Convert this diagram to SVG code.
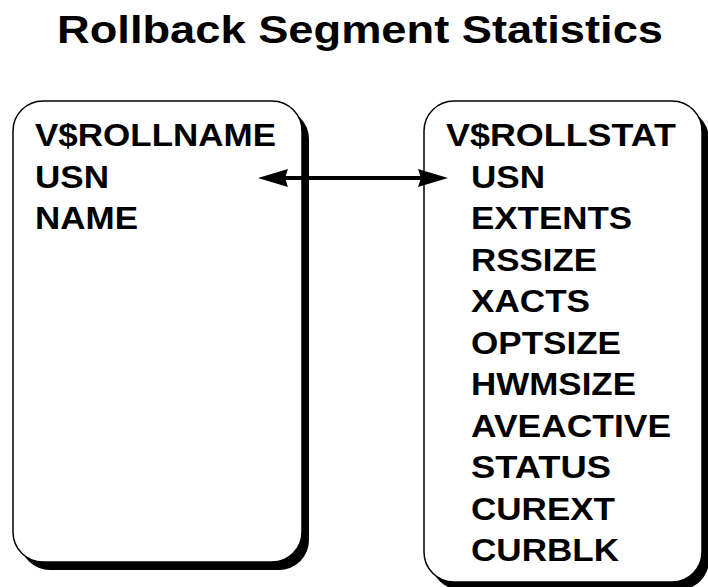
<svg xmlns="http://www.w3.org/2000/svg" width="708" height="587" viewBox="0 0 708 587">
  <style>
    .t { font-family: "Liberation Sans", Arial, sans-serif; font-weight: bold; fill: #000; }
    .title { font-size: 39px; }
    .item { font-size: 32px; }
    .box { fill: #fff; stroke: #000; stroke-width: 1.5; }
    .shadow { fill: #000; }
    .conn { stroke: #000; stroke-width: 4; fill: none; }
  </style>
  <defs>
    <marker id="ah" viewBox="0 0 30 18" refX="20" refY="9" markerWidth="30" markerHeight="18" markerUnits="userSpaceOnUse" orient="auto-start-reverse">
      <path d="M0,0 L30,9 L0,18 L3,9 z" fill="#000"/>
    </marker>
  </defs>
  <rect width="708" height="587" fill="#fff"/>
  <text class="t title" x="57" y="43" textLength="606" lengthAdjust="spacingAndGlyphs">Rollback Segment Statistics</text>

  <g id="v-rollname">
    <rect class="shadow" x="20" y="109" width="289" height="461" rx="30" ry="30"/>
    <rect class="box" x="13" y="101" width="289" height="461" rx="30" ry="30"/>
    <text class="t item" x="35" y="146" textLength="241" lengthAdjust="spacingAndGlyphs">V$ROLLNAME</text>
    <text class="t item" x="35" y="187.5" textLength="74" lengthAdjust="spacingAndGlyphs">USN</text>
    <text class="t item" x="35" y="229" textLength="103" lengthAdjust="spacingAndGlyphs">NAME</text>
  </g>

  <g id="v-rollstat">
    <rect class="shadow" x="431" y="109" width="278" height="481" rx="30" ry="30"/>
    <rect class="box" x="424" y="101" width="278" height="481" rx="30" ry="30"/>
    <text class="t item" x="446" y="146" textLength="230" lengthAdjust="spacingAndGlyphs">V$ROLLSTAT</text>
    <text class="t item" x="471" y="187.5" textLength="74" lengthAdjust="spacingAndGlyphs">USN</text>
    <text class="t item" x="471" y="229" textLength="161" lengthAdjust="spacingAndGlyphs">EXTENTS</text>
    <text class="t item" x="471" y="270.5" textLength="126" lengthAdjust="spacingAndGlyphs">RSSIZE</text>
    <text class="t item" x="471" y="312" textLength="119" lengthAdjust="spacingAndGlyphs">XACTS</text>
    <text class="t item" x="471" y="353.5" textLength="150" lengthAdjust="spacingAndGlyphs">OPTSIZE</text>
    <text class="t item" x="471" y="395" textLength="165" lengthAdjust="spacingAndGlyphs">HWMSIZE</text>
    <text class="t item" x="471" y="436.5" textLength="200" lengthAdjust="spacingAndGlyphs">AVEACTIVE</text>
    <text class="t item" x="471" y="478" textLength="140" lengthAdjust="spacingAndGlyphs">STATUS</text>
    <text class="t item" x="471" y="519.5" textLength="144" lengthAdjust="spacingAndGlyphs">CUREXT</text>
    <text class="t item" x="471" y="561" textLength="148" lengthAdjust="spacingAndGlyphs">CURBLK</text>
  </g>

  <g id="connectors">
    <line class="conn" x1="268" y1="178" x2="438" y2="178" marker-start="url(#ah)" marker-end="url(#ah)"/>
  </g>
</svg>
